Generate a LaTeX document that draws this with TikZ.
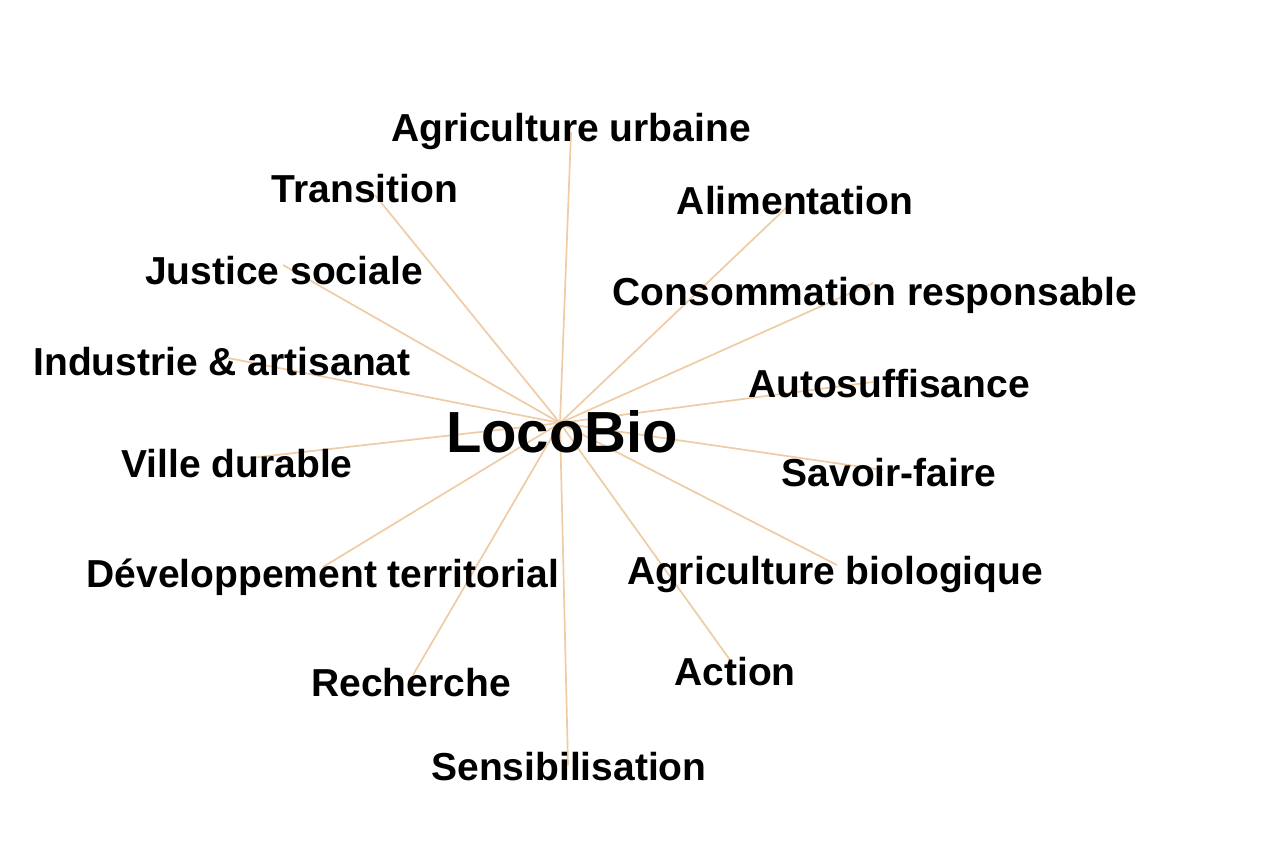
\documentclass[tikz,border=0pt]{standalone}
\usepackage{fontspec}
\setmainfont{Liberation Sans}
\definecolor{linkcol}{RGB}{240,204,166}
\begin{document}
\begin{tikzpicture}[x=1pt,y=-1pt,
  lab/.style={anchor=base,inner sep=0pt,font=\bfseries\fontsize{39}{39}\selectfont},
  hub/.style={anchor=base,inner sep=0pt,font=\bfseries\fontsize{58}{58}\selectfont},
  link/.style={draw=linkcol,line width=1.7pt}]
\useasboundingbox (0,0) rectangle (1268,850);
\fill[white] (0,0) rectangle (1268,850);
% endpoints
\coordinate (c) at (560,423);
\coordinate (pAU) at (571,132);
\coordinate (pTR) at (375,195);
\coordinate (pAL) at (787,207);
\coordinate (pCR) at (873,283);
\coordinate (pJS) at (283,265);
\coordinate (pIA) at (228,358);
\coordinate (pAS) at (873,382);
\coordinate (pVD) at (250,458);
\coordinate (pSF) at (883,470);
\coordinate (pDT) at (323,567);
\coordinate (pAB) at (837,565);
\coordinate (pAC) at (730,660);
\coordinate (pRE) at (413,675);
\coordinate (pSE) at (568,765);
\foreach \p in {pAU,pTR,pAL,pCR,pJS,pIA,pAS,pVD,pSF,pDT,pAB,pAC,pRE,pSE}
  \draw[link] (c) -- (\p);
% labels
\node[hub] (loco) at (562,452) {LocoBio};
\node[lab] (AU) at (571,142) {Agriculture urbaine};
\node[lab] (TR) at (365,203) {Transition};
\node[lab] (AL) at (795,215) {Alimentation};
\node[lab] (CR) at (875,305) {Consommation responsable};
\node[lab] (JS) at (284,284) {Justice sociale};
\node[lab] (IA) at (222,375) {Industrie \& artisanat};
\node[lab] (AS) at (889,397) {Autosuffisance};
\node[lab] (VD) at (237,477) {Ville durable};
\node[lab] (SF) at (889,486) {Savoir-faire};
\node[lab] (DT) at (323,587) {Développement territorial};
\node[lab] (AB) at (835,584) {Agriculture biologique};
\node[lab] (AC) at (735,685) {Action};
\node[lab] (RE) at (411,696) {Recherche};
\node[lab] (SE) at (569,780) {Sensibilisation};
\end{tikzpicture}
\end{document}
